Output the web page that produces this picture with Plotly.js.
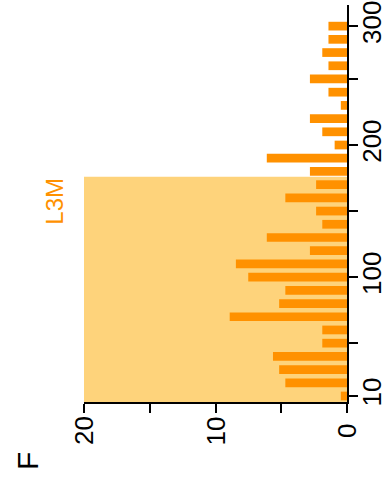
<!DOCTYPE html>
<html>
<head>
<meta charset="utf-8">
<script src="https://cdn.plot.ly/plotly-3.0.1.min.js"></script>
<style>
  html, body { margin: 0; padding: 0; background: #fff; }
  #chart { width: 390px; height: 484px; }
</style>
</head>
<body>
<div id="chart"></div>
<script>
// Bin index along the sequence (bottom to top)
const bins = [1, 2, 3, 4, 5, 6, 7, 8, 9, 10, 11, 12, 13, 14, 15,
              16, 17, 18, 19, 20, 21, 22, 23, 24, 25, 26, 27, 28, 29];
// Percentage of sites falling in each bin
const percents = [0.47, 4.69, 5.16, 5.63, 1.88, 1.88, 8.92, 5.16, 4.69, 7.51,
                  8.45, 2.82, 6.10, 1.88, 2.35, 4.69, 2.35, 2.82, 6.10, 0.94,
                  1.88, 2.82, 0.47, 1.41, 2.82, 1.41, 1.88, 1.41, 1.41];
// Position axis ticks and their labels
const binTicks = [1, 5, 10, 15, 20, 25, 29];
const binTickText = ['10', '', '100', '', '200', '', '300'];
// Percentage axis ticks
const pctTicks = [0, 5, 10, 15, 20];
const pctLabels = [0, 10, 20];
// Highlighted region (L3M) along the position axis
const regionLabel = 'L3M';
const regionEnd = 17.6;
const panelLabel = 'F';

const FONT = 'Liberation Sans, Arial, sans-serif';
const ORANGE = '#FF9100';
const SHADE = '#FED37B';

const trace = {
  type: 'bar',
  orientation: 'h',
  x: percents,
  y: bins,
  width: 0.66,
  marker: { color: ORANGE, line: { width: 0 } },
  hoverinfo: 'x+y'
};

const annotations = pctLabels.map(v => ({
  xref: 'x', yref: 'paper', x: v, y: 0,
  text: String(v), showarrow: false, textangle: -90,
  xanchor: 'center', yanchor: 'middle', yshift: -29,
  font: { family: FONT, size: 26, color: '#000' }
}));
annotations.push({
  xref: 'paper', yref: 'paper', x: -0.112, y: 0.506,
  text: regionLabel, showarrow: false, textangle: -90,
  xanchor: 'center', yanchor: 'middle',
  font: { family: FONT, size: 24, color: ORANGE }
});
annotations.push({
  xref: 'paper', yref: 'paper', x: -0.217, y: -0.149,
  text: panelLabel, showarrow: false, textangle: -90,
  xanchor: 'center', yanchor: 'middle',
  font: { family: FONT, size: 30, color: '#000' }
});

const layout = {
  width: 390, height: 484,
  margin: { l: 84, r: 43, t: 5, b: 82, pad: 0 },
  paper_bgcolor: '#fff', plot_bgcolor: '#fff',
  showlegend: false,
  font: { family: FONT, size: 26, color: '#000' },
  xaxis: {
    range: [20, 0],
    tickmode: 'array', tickvals: pctTicks,
    showticklabels: false,
    ticks: 'outside', ticklen: 9, tickwidth: 2, tickcolor: '#000',
    showline: true, linecolor: '#000', linewidth: 2,
    showgrid: false, zeroline: false, fixedrange: true
  },
  yaxis: {
    side: 'right',
    range: [0.546, 30.6],
    tickmode: 'array', tickvals: binTicks, ticktext: binTickText,
    tickangle: -90,
    ticklabelstandoff: -8,
    tickfont: { family: FONT, size: 26, color: '#000' },
    ticks: 'outside', ticklen: 9, tickwidth: 2, tickcolor: '#000',
    showline: true, linecolor: '#000', linewidth: 2,
    showgrid: false, zeroline: false, fixedrange: true
  },
  shapes: [{
    type: 'rect', layer: 'below',
    xref: 'paper', yref: 'y',
    x0: 0, x1: 1, y0: 0.546, y1: regionEnd,
    fillcolor: SHADE, line: { width: 0 }
  }],
  annotations: annotations
};

Plotly.newPlot('chart', [trace], layout, { staticPlot: true, displayModeBar: false });
</script>
</body>
</html>
